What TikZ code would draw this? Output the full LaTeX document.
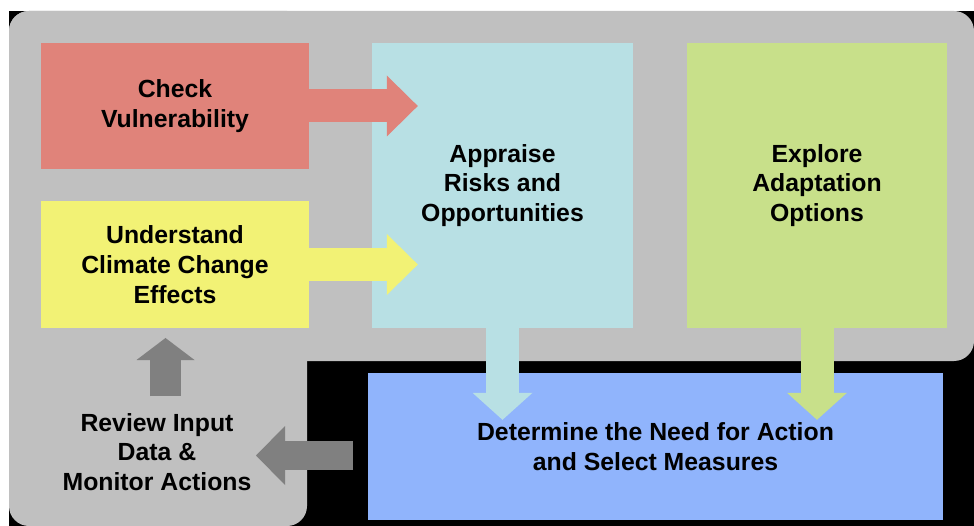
\documentclass[tikz,border=0pt]{standalone}
\usepackage{fontspec}
\setmainfont{Liberation Sans}
\usetikzlibrary{arrows.meta,calc}
\definecolor{bgrey}{HTML}{C0C0C0}
\definecolor{cred}{HTML}{E0837A}
\definecolor{cyellow}{HTML}{F2F275}
\definecolor{ccyan}{HTML}{B8E0E4}
\definecolor{cgreen}{HTML}{C8E08A}
\definecolor{cblue}{HTML}{90B4FC}
\definecolor{darrow}{HTML}{808080}
\begin{document}
\begin{tikzpicture}[x=1pt,y=-1pt,
  box/.style={rectangle, inner sep=0pt, align=center,
    font=\fontsize{24.8}{29.8}\selectfont\bfseries},
  blkh/.style={line width=33pt, -{Triangle[length=31pt,width=61pt,line width=0pt]}},
  blkv/.style={line width=33pt, -{Triangle[length=27pt,width=60pt,line width=0pt]}},
  greyup/.style={darrow, line width=31pt, -{Triangle[length=22pt,width=58pt,line width=0pt]}},
  greyleft/.style={darrow, line width=29pt, -{Triangle[length=29pt,width=59pt,line width=0pt]}}]
\useasboundingbox (0,0) rectangle (974,526);
\fill[white] (0,0) rectangle (974,526);
\fill[black] (9,11) rectangle (974,526);
\fill[bgrey, rounded corners=20pt] (9,11) rectangle (974,361);
\fill[bgrey, rounded corners=20pt] (9,11) rectangle (307,526);

\node[box, fill=cred, minimum width=268pt, minimum height=126pt] (red) at (175,106) {Check\\Vulnerability};
\node[box, fill=cyellow, minimum width=268pt, minimum height=127pt] (yellow) at (175,264.5) {Understand\\Climate Change\\Effects};
\node[box, fill=ccyan, minimum width=261pt, minimum height=285pt] (cyan) at (502.5,185.5) {Appraise\\Risks and\\Opportunities};
\node[box, fill=cgreen, minimum width=260pt, minimum height=285pt] (green) at (817,185.5) {Explore\\Adaptation\\Options};
\node[box, fill=cblue, minimum width=575pt, minimum height=147pt] (blue) at (655.5,446.5) {Determine the Need for Action\\and Select Measures};
\node[box] (review) at (157,452) {Review Input\\Data \&\\Monitor Actions};

\coordinate (upA) at (165.5,396);
\coordinate (upB) at (165.5,338);
\coordinate (lfA) at (353,455.5);
\coordinate (lfB) at (256,455.5);

\draw[blkh, cred] (red.east) -- ([xshift=46pt]cyan.west |- red.east);
\draw[blkh, cyellow] (yellow.east) -- ([xshift=46pt]cyan.west |- yellow.east);
\draw[blkv, ccyan] (cyan.south) -- ([yshift=-47pt]blue.north -| cyan.south);
\draw[blkv, cgreen] (green.south) -- ([yshift=-47pt]blue.north -| green.south);
\draw[greyup] (upA) -- (upB);
\draw[greyleft] (lfA) -- (lfB);
\end{tikzpicture}
\end{document}
